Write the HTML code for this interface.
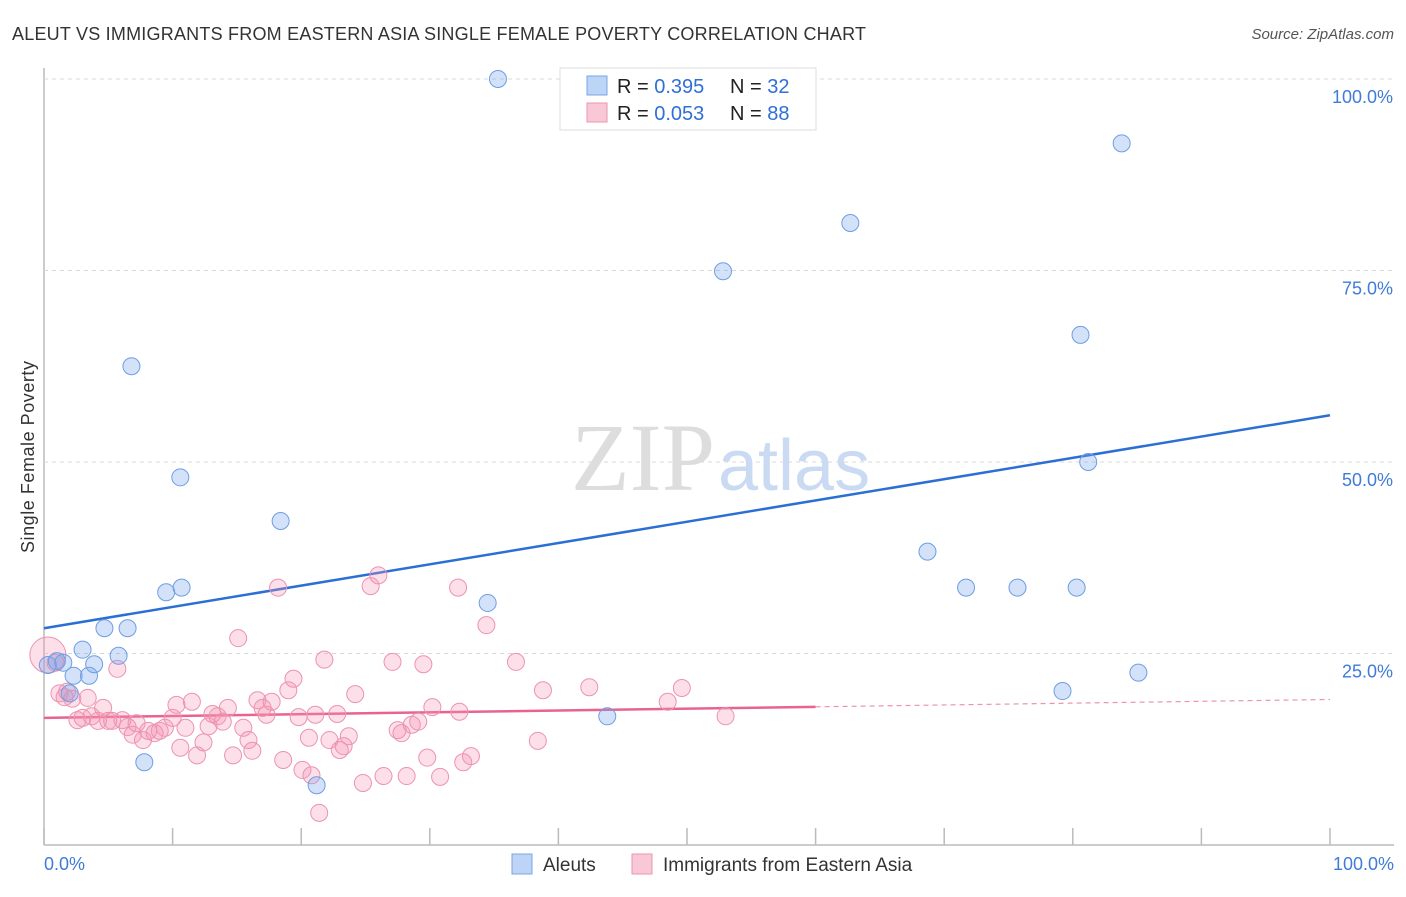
<!DOCTYPE html>
<html><head><meta charset="utf-8"><style>
body{margin:0;background:#fff;font-family:"Liberation Sans",sans-serif;}
svg text{font-family:"Liberation Sans",sans-serif;}
</style></head><body>
<svg id="chart" width="1406" height="892">
<text x="12" y="40" font-size="18" fill="#333" textLength="854">ALEUT VS IMMIGRANTS FROM EASTERN ASIA SINGLE FEMALE POVERTY CORRELATION CHART</text>
<text x="1394" y="39" font-size="15" fill="#555" font-style="italic" text-anchor="end">Source: ZipAtlas.com</text>
<text transform="translate(34,457) rotate(-90)" font-size="18" fill="#333" text-anchor="middle" textLength="192">Single Female Poverty</text>
<g id="grid"></g>
<text x="715" y="490" font-size="96" fill="#ddd" text-anchor="end" style="font-family:'Liberation Serif',serif">ZIP</text>
<text x="718" y="490" font-size="72" fill="#c9daf2">atlas</text>
<g id="lines"></g>
<g id="pts"></g>
<g>
<rect x="560" y="68" width="256" height="62" fill="#fff" stroke="#ddd"/>
<rect x="587" y="76" width="20" height="19" fill="#bcd4f5" stroke="#7aa6e6"/>
<rect x="587" y="103" width="20" height="19" fill="#f9c8d6" stroke="#eb93ae"/>
<text x="617" y="93" font-size="20" fill="#222">R = <tspan fill="#2f6fd6">0.395</tspan></text>
<text x="730" y="93" font-size="20" fill="#222">N = <tspan fill="#2f6fd6">32</tspan></text>
<text x="617" y="120" font-size="20" fill="#222">R = <tspan fill="#2f6fd6">0.053</tspan></text>
<text x="730" y="120" font-size="20" fill="#222">N = <tspan fill="#2f6fd6">88</tspan></text>
</g>
<g>
<rect x="512" y="854" width="20" height="20" fill="#bcd4f5" stroke="#7aa6e6"/>
<text x="543" y="871" font-size="19" fill="#333">Aleuts</text>
<rect x="632" y="854" width="20" height="20" fill="#f9c8d6" stroke="#eb93ae"/>
<text x="663" y="871" font-size="19" fill="#333">Immigrants from Eastern Asia</text>
</g>
</svg>
<script>
const yTicks=[25,50,75,100];
const yTickLabels=["25.0%","50.0%","75.0%","100.0%"];
const xTicks=[0,10,20,30,40,50,60,70,80,90,100];
const blueX=[0.3,1.0,1.5,2.0,2.3,3.0,3.5,3.9,4.7,5.8,6.5,6.8,7.8,9.5,10.6,10.7,18.4,21.2,34.5,35.3,43.8,52.8,62.7,68.7,71.7,75.7,80.3,79.2,80.6,81.2,83.8,85.1];
const blueY=[23.5,24.0,23.8,19.8,22.1,25.5,22.1,23.6,28.3,24.7,28.3,62.5,10.8,33.0,48.0,33.6,42.3,7.8,31.6,100,16.8,74.9,81.2,38.3,33.6,33.6,33.6,20.1,66.6,50.0,91.6,22.5];
const pinkX=[0.3,0.9,1.2,1.6,2.2,2.6,3.0,3.4,3.7,4.2,4.6,5.0,5.3,5.7,6.1,6.5,6.9,7.2,7.7,8.1,8.6,9.0,9.4,10.0,10.3,10.6,11.0,11.5,11.9,12.4,12.8,13.1,13.5,13.9,14.3,14.7,15.1,15.5,15.9,16.2,16.6,17.0,17.3,17.7,18.2,18.6,19.0,19.4,19.8,20.1,20.6,20.8,21.1,21.4,21.8,22.2,22.8,23.0,23.3,23.7,24.2,24.8,25.4,26.0,26.4,27.1,27.5,27.8,28.2,28.6,29.1,29.5,29.8,30.2,30.8,32.2,32.3,32.6,33.2,34.4,36.7,38.4,38.8,42.4,48.5,49.6,53.0,1.8];
const pinkY=[24.8,23.8,19.8,19.3,19.1,16.3,16.6,19.2,16.8,16.2,17.9,16.2,16.2,23.0,16.3,15.4,14.4,15.9,13.7,14.9,14.6,14.9,15.3,16.6,18.3,12.7,15.3,18.7,11.7,13.4,15.5,17.1,16.8,16.1,17.9,11.7,27.0,15.3,13.7,12.3,18.9,17.9,17.0,18.7,33.6,11.1,20.2,21.7,16.7,9.8,14.0,9.1,17.0,4.2,24.2,13.7,17.1,12.4,12.9,14.2,19.7,8.1,33.8,35.2,9.0,23.9,15.0,14.6,9.0,15.7,16.1,23.6,11.4,18.0,8.9,33.6,17.4,10.8,11.6,28.7,23.9,13.6,20.2,20.6,18.7,20.5,16.8,20.0];
const blueFit=[28.3,56.1];
const pinkFit=[16.6,19.0];
const pinkSolidEnd=60;
const NS="http://www.w3.org/2000/svg";
const X0=44,X1=1330,Y0=845,Y100=79;
const sx=v=>X0+(X1-X0)*v/100;
const sy=v=>Y0-(Y0-Y100)*v/100;
function mk(tag,attrs,parent){const e=document.createElementNS(NS,tag);for(const k in attrs)e.setAttribute(k,attrs[k]);parent.appendChild(e);return e;}
const grid=document.getElementById('grid');
let ax=mk('line',{x1:X0,y1:68,x2:X0,y2:Y0,stroke:'#bbb','stroke-width':1.5},grid);


let bx=mk('line',{x1:X0,y1:Y0,x2:1394,y2:Y0,stroke:'#bbb','stroke-width':1.5},grid);


yTicks.forEach((t,i)=>{
 let g=mk('line',{x1:X0,y1:sy(t),x2:1394,y2:sy(t),stroke:'#d8d8d8','stroke-dasharray':'4,4'},grid);
 
 
 let tx=mk('text',{x:1393,y:sy(t)+24,'font-size':18,fill:'#3f7bd9','text-anchor':'end'},grid);
 tx.textContent=yTickLabels[i];
 
 
});
xTicks.forEach(t=>{
 let l=mk('line',{x1:sx(t),y1:828,x2:sx(t),y2:Y0,stroke:'#bbb','stroke-width':1.5},grid);
 
 
});
let x0l=mk('text',{x:44,y:870,'font-size':18,fill:'#3f7bd9'},grid);x0l.textContent='0.0%';


let x1l=mk('text',{x:1394,y:870,'font-size':18,fill:'#3f7bd9','text-anchor':'end'},grid);x1l.textContent='100.0%';


const pts=document.getElementById('pts');
pinkX.forEach((x,i)=>{
 const r=(i===0)?18:8.5;
 let c=mk('circle',{cx:sx(x),cy:sy(pinkY[i]),r:r,fill:'rgba(244,150,180,0.3)',stroke:'#ec93b0','stroke-width':1},pts);
 
 
});
blueX.forEach((x,i)=>{
 let c=mk('circle',{cx:sx(x),cy:sy(blueY[i]),r:8.5,fill:'rgba(120,165,235,0.32)',stroke:'#6d9ee3','stroke-width':1},pts);
 
 
});
const lines=document.getElementById('lines');
let bl=mk('line',{x1:sx(0),y1:sy(blueFit[0]),x2:sx(100),y2:sy(blueFit[1]),stroke:'#2b6fd4','stroke-width':2.5},lines);


const pAt=v=>pinkFit[0]+(pinkFit[1]-pinkFit[0])*v/100;
let pl=mk('line',{x1:sx(0),y1:sy(pAt(0)),x2:sx(pinkSolidEnd),y2:sy(pAt(pinkSolidEnd)),stroke:'#e8638d','stroke-width':2.5},lines);


let pd=mk('line',{x1:sx(pinkSolidEnd),y1:sy(pAt(pinkSolidEnd)),x2:sx(100),y2:sy(pAt(100)),stroke:'#ec93b0','stroke-width':1.2,'stroke-dasharray':'5,4'},lines);


</script>
</body></html>
